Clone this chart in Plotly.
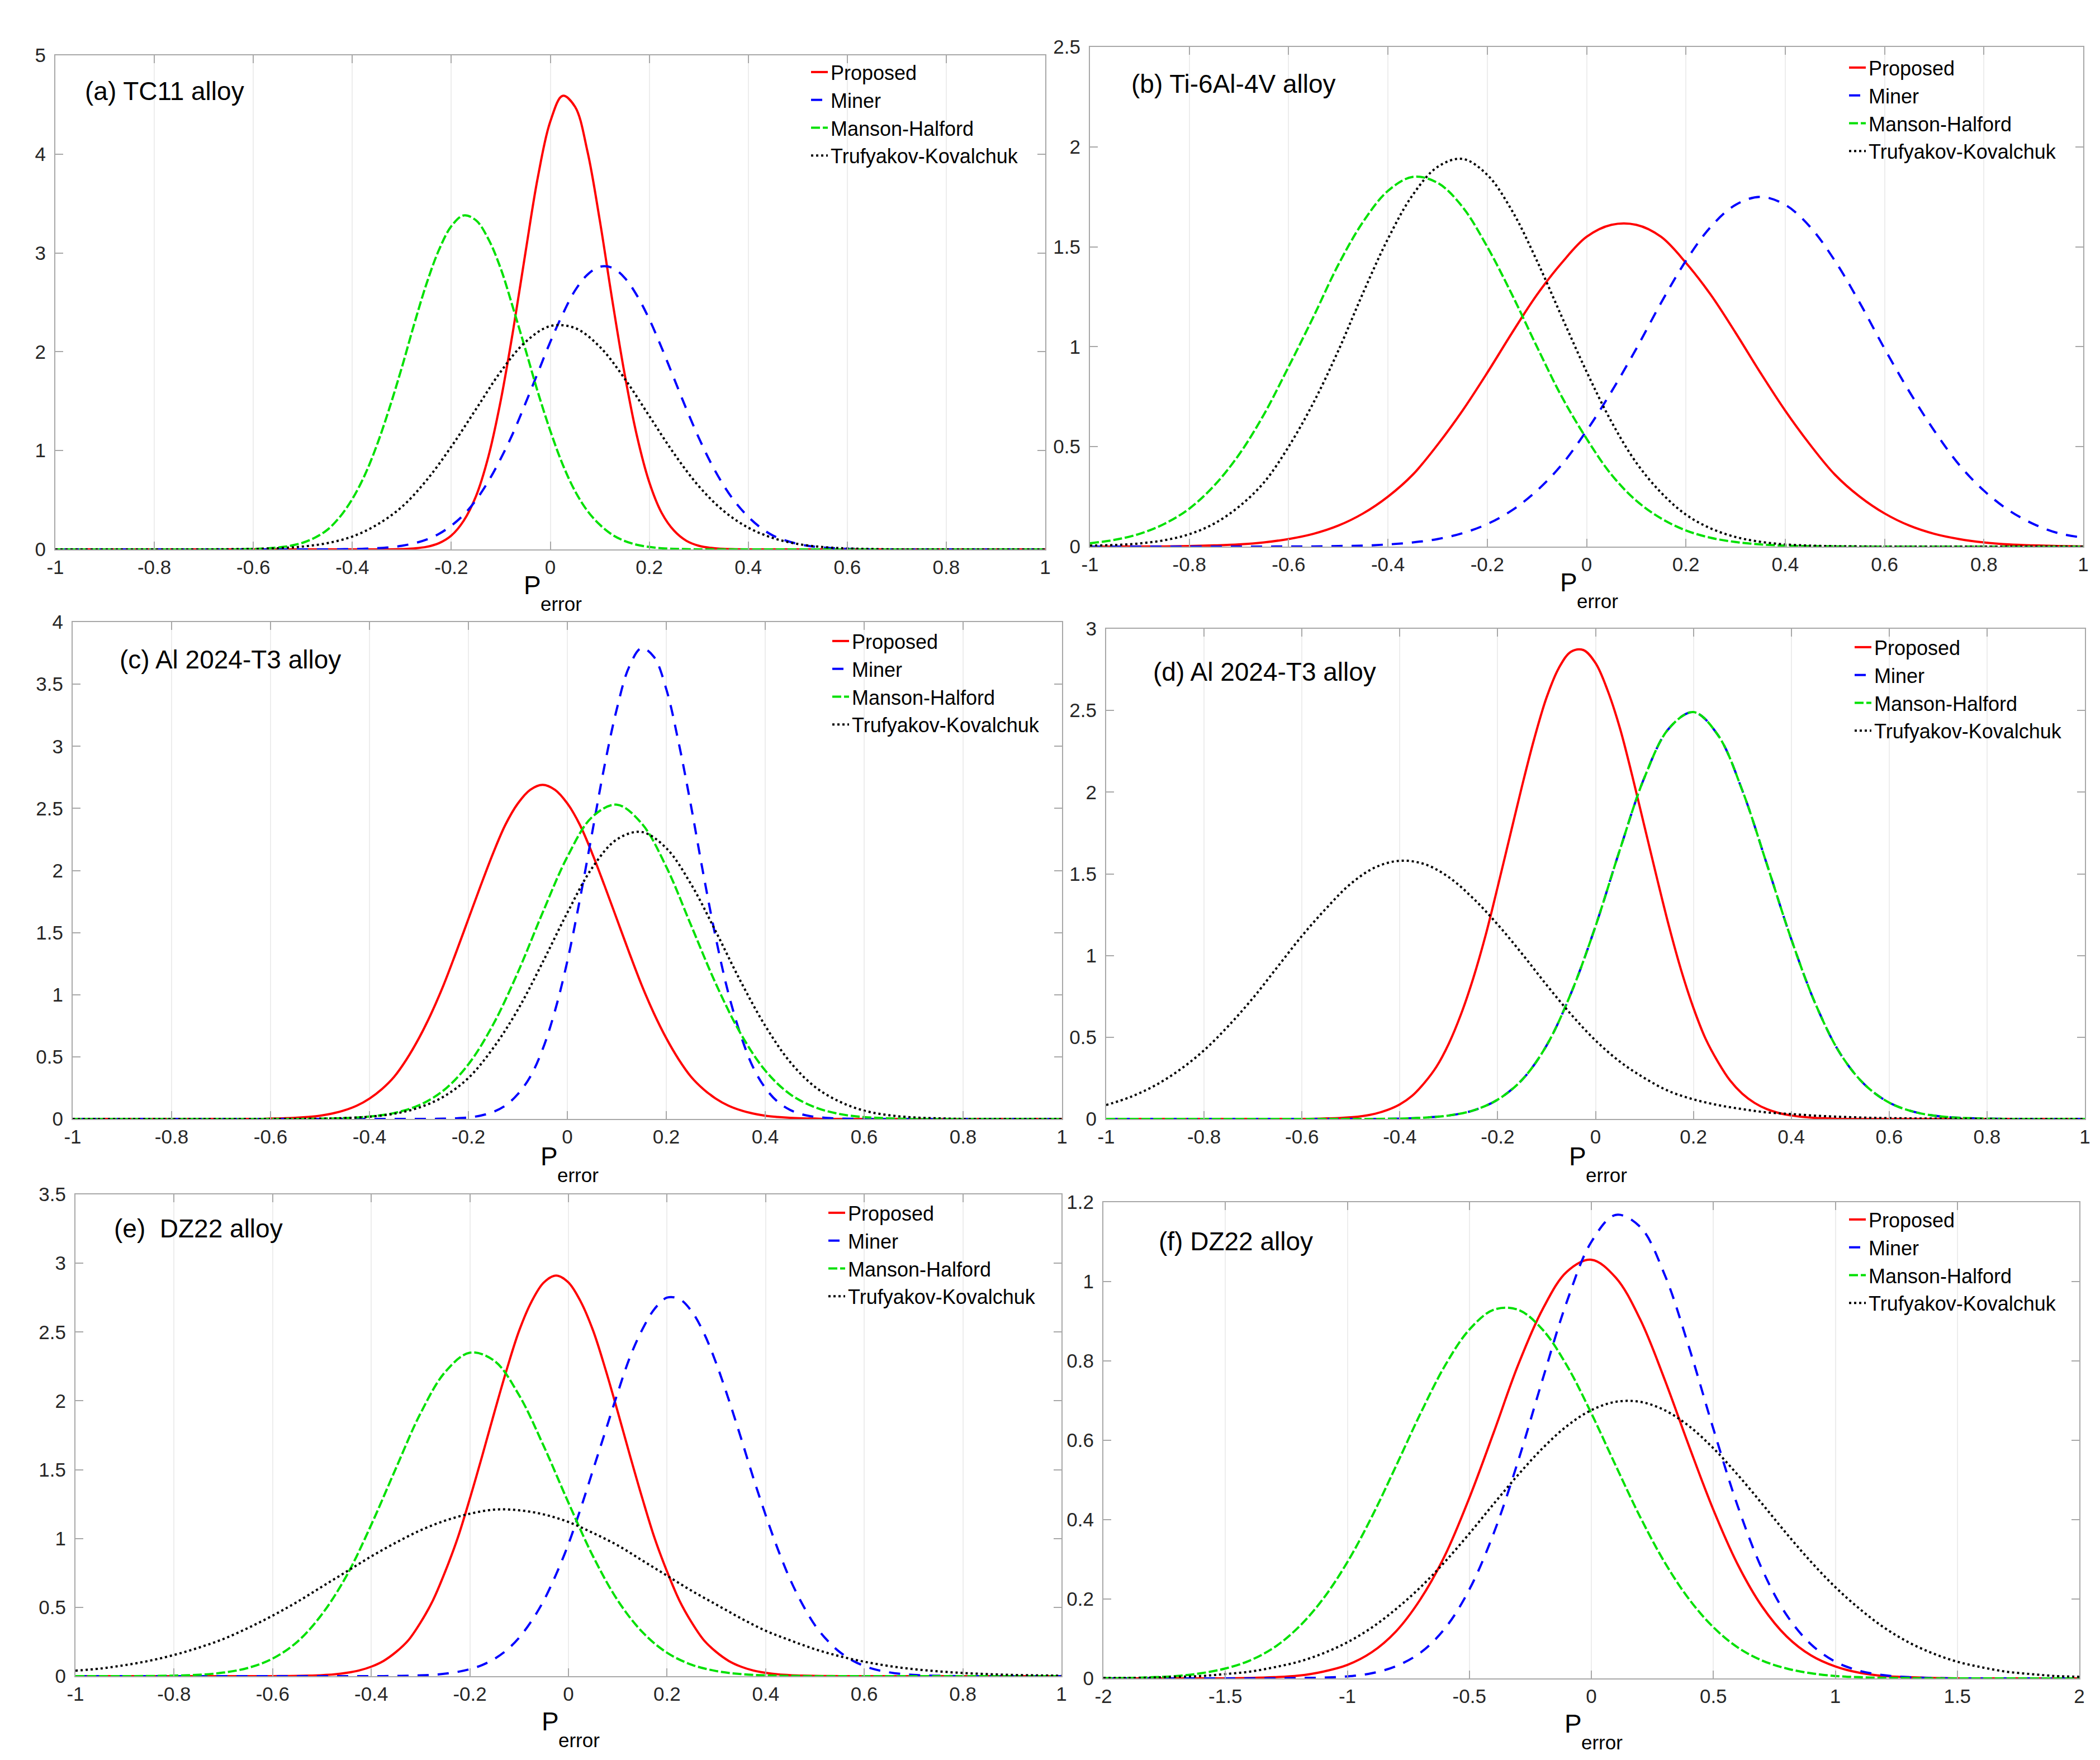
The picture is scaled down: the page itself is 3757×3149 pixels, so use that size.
import plotly.graph_objects as go

W, H = 3757, 3149

# sample positions along P_error
x_dense = [-1, -0.975, -0.95, -0.925, -0.9, -0.875, -0.85, -0.825, -0.8, -0.775,
           -0.75, -0.725, -0.7, -0.675, -0.65, -0.625, -0.6, -0.575, -0.55, -0.525,
           -0.5, -0.475, -0.45, -0.425, -0.4, -0.375, -0.35, -0.325, -0.3, -0.275,
           -0.25, -0.225, -0.2, -0.175, -0.15, -0.125, -0.1, -0.075, -0.05, -0.025,
           0, 0.025, 0.05, 0.075, 0.1, 0.125, 0.15, 0.175, 0.2, 0.225,
           0.25, 0.275, 0.3, 0.325, 0.35, 0.375, 0.4, 0.425, 0.45, 0.475,
           0.5, 0.525, 0.55, 0.575, 0.6, 0.625, 0.65, 0.675, 0.7, 0.725,
           0.75, 0.775, 0.8, 0.825, 0.85, 0.875, 0.9, 0.925, 0.95, 0.975,
           1]
x_fine = [-1, -0.95, -0.9, -0.85, -0.8, -0.75, -0.7, -0.65, -0.6, -0.55, -0.5,
          -0.45, -0.4, -0.35, -0.3, -0.25, -0.2, -0.15, -0.1, -0.05, 0,
          0.05, 0.1, 0.15, 0.2, 0.25, 0.3, 0.35, 0.4, 0.45, 0.5,
          0.55, 0.6, 0.65, 0.7, 0.75, 0.8, 0.85, 0.9, 0.95, 1]
x_wide = [-2, -1.9, -1.8, -1.7, -1.6, -1.5, -1.4, -1.3, -1.2, -1.1, -1,
          -0.9, -0.8, -0.7, -0.6, -0.5, -0.4, -0.3, -0.2, -0.1, 0,
          0.1, 0.2, 0.3, 0.4, 0.5, 0.6, 0.7, 0.8, 0.9, 1,
          1.1, 1.2, 1.3, 1.4, 1.5, 1.6, 1.7, 1.8, 1.9, 2]

# (a) TC11 alloy
a_proposed = [0, 0, 0, 0, 0, 0, 0, 0, 0, 0,
              0, 0, 0, 0, 0, 0, 0, 0, 0, 0,
              0, 0, 0, 0, 0, 0, 0, 0, 0.003, 0.010,
              0.026, 0.063, 0.14, 0.29, 0.54, 0.94, 1.51, 2.22, 3.01, 3.77,
              4.33, 4.59, 4.48, 4.03, 3.33, 2.53, 1.78, 1.15, 0.68, 0.37,
              0.19, 0.087, 0.037, 0.015, 0.005, 0.002, 0, 0, 0, 0,
              0, 0, 0, 0, 0, 0, 0, 0, 0, 0,
              0, 0, 0, 0, 0, 0, 0, 0, 0, 0,
              0]
a_miner = [0, 0, 0, 0, 0, 0, 0, 0, 0, 0,
           0, 0, 0, 0, 0, 0, 0, 0, 0, 0,
           0, 0, 0, 0.002, 0.003, 0.007, 0.012, 0.021, 0.037, 0.062,
           0.10, 0.157, 0.24, 0.35, 0.50, 0.69, 0.92, 1.18, 1.48, 1.79,
           2.10, 2.38, 2.62, 2.78, 2.86, 2.85, 2.75, 2.57, 2.33, 2.04,
           1.73, 1.42, 1.13, 0.87, 0.65, 0.47, 0.33, 0.22, 0.14, 0.091,
           0.056, 0.033, 0.019, 0.011, 0.006, 0.003, 0, 0, 0, 0,
           0, 0, 0, 0, 0, 0, 0, 0, 0, 0,
           0]
a_mh = [0, 0, 0, 0, 0, 0, 0, 0, 0, 0,
        0, 0, 0, 0, 0, 0.002, 0.004, 0.009, 0.019, 0.037,
        0.068, 0.12, 0.20, 0.33, 0.51, 0.75, 1.06, 1.43, 1.84, 2.28,
        2.69, 3.03, 3.27, 3.38, 3.33, 3.14, 2.84, 2.44, 2.02, 1.59,
        1.20, 0.86, 0.59, 0.39, 0.25, 0.149, 0.086, 0.047, 0.025, 0.012,
        0.006, 0.003, 0, 0, 0, 0, 0, 0, 0, 0,
        0, 0, 0, 0, 0, 0, 0, 0, 0, 0,
        0, 0, 0, 0, 0, 0, 0, 0, 0, 0,
        0]
a_tk = [0, 0, 0, 0, 0, 0, 0,
        0.002, 0.005, 0.012, 0.029, 0.064, 0.13, 0.25, 0.43, 0.70, 1.04, 1.42, 1.80,
        2.10, 2.26, 2.24, 2.05, 1.73, 1.35, 0.97, 0.64, 0.39, 0.22, 0.115, 0.055,
        0.024, 0.010, 0.004,
        0, 0, 0, 0, 0, 0, 0]

# (b) Ti-6Al-4V alloy
b_proposed = [0, 0, 0.001, 0.001, 0.003, 0.006, 0.011, 0.021, 0.038, 0.064, 0.105,
              0.166, 0.25, 0.36, 0.51, 0.68, 0.87, 1.07, 1.26, 1.42, 1.55,
              1.61, 1.61, 1.55, 1.42, 1.26, 1.07, 0.87, 0.68, 0.51, 0.36,
              0.25, 0.166, 0.105, 0.064, 0.038, 0.021, 0.011, 0.006, 0.003, 0.001]
b_miner = [0, 0, 0, 0, 0, 0, 0, 0, 0.001, 0.001, 0.003,
           0.005, 0.011, 0.021, 0.038, 0.067, 0.113, 0.182, 0.28, 0.41, 0.58,
           0.775, 0.99, 1.22, 1.43, 1.60, 1.71, 1.75, 1.71, 1.60, 1.43,
           1.22, 0.99, 0.775, 0.58, 0.41, 0.28, 0.182, 0.113, 0.067, 0.045]
b_mh = [0.017, 0.034, 0.064, 0.114, 0.19, 0.305, 0.46, 0.66, 0.90, 1.15, 1.41,
        1.625, 1.78, 1.85, 1.82, 1.70, 1.50, 1.26, 1.00, 0.75, 0.54,
        0.36, 0.23, 0.141, 0.081, 0.044, 0.023, 0.011, 0.005, 0.002, 0.001,
        0, 0, 0, 0, 0, 0, 0, 0, 0, 0]
b_tk = [0.005, 0.008, 0.016, 0.032, 0.062, 0.115, 0.20, 0.32, 0.50, 0.72, 0.98,
        1.27, 1.54, 1.76, 1.90, 1.94, 1.86, 1.68, 1.43, 1.15, 0.875,
        0.625, 0.42, 0.27, 0.16, 0.091, 0.048, 0.024, 0.011, 0.005, 0.002,
        0.001, 0, 0, 0, 0, 0, 0, 0, 0, 0]

# (c) Al 2024-T3 alloy
c_proposed = [0, 0, 0, 0, 0, 0, 0, 0, 0, 0,
              0, 0, 0, 0, 0, 0, 0.003, 0.005, 0.009, 0.016,
              0.026, 0.044, 0.070, 0.108, 0.164, 0.24, 0.34, 0.48, 0.65, 0.85,
              1.08, 1.34, 1.61, 1.88, 2.14, 2.37, 2.54, 2.65, 2.69, 2.65,
              2.54, 2.37, 2.14, 1.88, 1.61, 1.34, 1.08, 0.85, 0.65, 0.48,
              0.34, 0.24, 0.164, 0.108, 0.070, 0.044, 0.026, 0.016, 0.009, 0.005,
              0.003, 0, 0, 0, 0, 0, 0, 0, 0, 0,
              0, 0, 0, 0, 0, 0, 0, 0, 0, 0,
              0]
c_miner = [0, 0, 0, 0, 0, 0, 0, 0, 0, 0,
           0, 0, 0, 0, 0, 0, 0, 0, 0, 0,
           0, 0, 0, 0, 0, 0, 0, 0, 0, 0,
           0.002, 0.005, 0.012, 0.027, 0.056, 0.108, 0.20, 0.34, 0.56, 0.87,
           1.27, 1.76, 2.30, 2.84, 3.30, 3.64, 3.79, 3.72, 3.46, 3.03,
           2.52, 1.97, 1.46, 1.02, 0.68, 0.42, 0.25, 0.139, 0.073, 0.036,
           0.017, 0.008, 0.003, 0.001, 0, 0, 0, 0, 0, 0,
           0, 0, 0, 0, 0, 0, 0, 0, 0, 0,
           0]
c_mh = [0, 0, 0, 0, 0, 0, 0, 0, 0, 0,
        0.002, 0.007, 0.019, 0.048, 0.11, 0.23, 0.44, 0.76, 1.18, 1.66, 2.11, 2.43,
        2.53, 2.38, 2.03, 1.56, 1.09, 0.69, 0.39, 0.20, 0.095, 0.040, 0.015, 0.005,
        0, 0, 0, 0, 0, 0, 0]
c_tk = [0, 0, 0, 0, 0, 0, 0, 0, 0, 0,
        0.002, 0.007, 0.018, 0.042, 0.091, 0.18, 0.33, 0.57, 0.88, 1.26, 1.66, 2.02,
        2.25, 2.31, 2.18, 1.89, 1.51, 1.11, 0.75, 0.46, 0.26, 0.14, 0.067, 0.030,
        0.012, 0.005,
        0, 0, 0, 0, 0]

# (d) Al 2024-T3 alloy (Miner lies under Manson-Halford)
d_proposed = [0, 0, 0, 0, 0, 0, 0, 0, 0, 0,
              0, 0, 0, 0, 0, 0, 0, 0.001, 0.003, 0.005,
              0.010, 0.018, 0.032, 0.055, 0.089, 0.141, 0.22, 0.32, 0.46, 0.64,
              0.86, 1.12, 1.42, 1.73, 2.04, 2.33, 2.58, 2.76, 2.86, 2.87,
              2.79, 2.62, 2.39, 2.10, 1.79, 1.48, 1.18, 0.91, 0.68, 0.49,
              0.35, 0.235, 0.154, 0.098, 0.060, 0.036, 0.021, 0.012, 0.006, 0.003,
              0, 0, 0, 0, 0, 0, 0, 0, 0, 0,
              0, 0, 0, 0, 0, 0, 0, 0, 0, 0,
              0]
d_miner = [0, 0, 0, 0, 0, 0, 0, 0, 0, 0, 0, 0,
           0.002, 0.008, 0.021, 0.052, 0.118, 0.24, 0.45, 0.77, 1.18, 1.65, 2.09, 2.39,
           2.49, 2.35, 2.01, 1.56, 1.10, 0.70, 0.40, 0.21, 0.10, 0.044, 0.017, 0.006,
           0.002, 0, 0, 0, 0]
d_mh = [0, 0, 0, 0, 0, 0, 0, 0, 0, 0, 0, 0,
        0.002, 0.008, 0.021, 0.052, 0.118, 0.24, 0.45, 0.77, 1.18, 1.65, 2.09, 2.39,
        2.49, 2.35, 2.01, 1.56, 1.10, 0.70, 0.40, 0.21, 0.10, 0.044, 0.017, 0.006,
        0.002, 0, 0, 0, 0]
d_tk = [0.085, 0.135, 0.205, 0.30, 0.42, 0.57, 0.74, 0.93, 1.12, 1.29, 1.44,
        1.54, 1.58, 1.56, 1.48, 1.35, 1.19, 1.01, 0.82, 0.64, 0.48,
        0.35, 0.25, 0.17, 0.12, 0.085, 0.06, 0.04, 0.03, 0.02, 0.013,
        0.008, 0.005, 0.003, 0.002, 0.001, 0, 0, 0, 0, 0]

# (e) DZ22 alloy
e_proposed = [0, 0, 0, 0, 0, 0, 0, 0, 0, 0,
              0, 0, 0, 0, 0, 0, 0, 0.001, 0.002, 0.004,
              0.007, 0.013, 0.024, 0.041, 0.069, 0.111, 0.175, 0.26, 0.39, 0.55,
              0.76, 1.00, 1.29, 1.60, 1.92, 2.23, 2.51, 2.72, 2.86, 2.91,
              2.86, 2.72, 2.51, 2.23, 1.92, 1.60, 1.29, 1.00, 0.76, 0.55,
              0.39, 0.26, 0.175, 0.111, 0.069, 0.041, 0.024, 0.013, 0.007, 0.004,
              0.002, 0.001, 0, 0, 0, 0, 0, 0, 0, 0,
              0, 0, 0, 0, 0, 0, 0, 0, 0, 0,
              0]
e_miner = [0, 0, 0, 0, 0, 0, 0, 0, 0, 0,
           0, 0, 0, 0, 0, 0, 0, 0, 0, 0,
           0, 0, 0, 0, 0, 0, 0.002, 0.003, 0.006, 0.010,
           0.018, 0.031, 0.051, 0.081, 0.126, 0.19, 0.28, 0.40, 0.55, 0.74,
           0.96, 1.22, 1.50, 1.78, 2.06, 2.32, 2.52, 2.67, 2.75, 2.74,
           2.65, 2.49, 2.27, 2.01, 1.73, 1.44, 1.17, 0.92, 0.70, 0.52,
           0.37, 0.26, 0.176, 0.116, 0.074, 0.046, 0.028, 0.016, 0.009, 0.005,
           0.003, 0.001, 0, 0, 0, 0, 0, 0, 0, 0,
           0]
e_mh = [0, 0, 0,
        0.001, 0.004, 0.010, 0.026, 0.060, 0.128, 0.25, 0.45, 0.73, 1.10, 1.51, 1.91,
        2.21, 2.35, 2.29, 2.04, 1.67, 1.26, 0.87, 0.55, 0.32, 0.17, 0.083, 0.037,
        0.015, 0.006, 0.002,
        0, 0, 0, 0, 0, 0, 0, 0, 0, 0, 0]
e_tk = [0.04, 0.055, 0.080, 0.112, 0.154, 0.207, 0.27, 0.35, 0.44, 0.54, 0.65,
        0.76, 0.87, 0.97, 1.06, 1.13, 1.18, 1.21, 1.205, 1.175, 1.12,
        1.04, 0.95, 0.84, 0.73, 0.62, 0.52, 0.42, 0.33, 0.26, 0.196,
        0.145, 0.105, 0.074, 0.051, 0.035, 0.023, 0.015, 0.009, 0.006, 0.003]

# (f) DZ22 alloy
f_proposed = [0, 0, 0, 0, 0, 0,
              0.001, 0.003, 0.007, 0.017, 0.034, 0.066, 0.119, 0.20, 0.31, 0.455, 0.62,
              0.79, 0.93, 1.025, 1.055, 1.01, 0.905, 0.754, 0.586, 0.425, 0.287, 0.181,
              0.106, 0.058, 0.030, 0.014, 0.006, 0.003, 0.001,
              0, 0, 0, 0, 0, 0]
f_miner = [0, 0, 0, 0, 0, 0, 0, 0,
           0.001, 0.002, 0.005, 0.013, 0.031, 0.065, 0.126, 0.224, 0.366, 0.548, 0.753,
           0.95, 1.10, 1.168, 1.138, 1.018, 0.835, 0.629, 0.434, 0.275, 0.160, 0.086,
           0.042, 0.019, 0.008, 0.003, 0.001,
           0, 0, 0, 0, 0, 0]
f_mh = [0.001, 0.001, 0.003, 0.006, 0.013, 0.025, 0.045, 0.078, 0.129, 0.20, 0.293,
        0.407, 0.536, 0.668, 0.788, 0.879, 0.929, 0.929, 0.879, 0.788, 0.668,
        0.536, 0.407, 0.293, 0.20, 0.129, 0.078, 0.045, 0.025, 0.013, 0.006,
        0.003, 0.001, 0.001, 0, 0, 0, 0, 0, 0, 0]
f_tk = [0.001, 0.001, 0.002, 0.004, 0.006, 0.011, 0.017, 0.028, 0.042, 0.063, 0.091,
        0.128, 0.175, 0.23, 0.294, 0.365, 0.44, 0.513, 0.58, 0.636, 0.676,
        0.697, 0.697, 0.676, 0.636, 0.58, 0.513, 0.44, 0.365, 0.294, 0.23,
        0.175, 0.128, 0.091, 0.063, 0.042, 0.028, 0.017, 0.011, 0.006, 0.004]

series_names = ["Proposed", "Miner", "Manson-Halford", "Trufyakov-Kovalchuk"]
panel_titles = ["(a) TC11 alloy", "(b) Ti-6Al-4V alloy", "(c) Al 2024-T3 alloy",
                "(d) Al 2024-T3 alloy", "(e)\u00a0\u00a0DZ22 alloy", "(f) DZ22 alloy"]

xt_unit = [-1, -0.8, -0.6, -0.4, -0.2, 0, 0.2, 0.4, 0.6, 0.8, 1]
xt_unit_text = ["-1", "-0.8", "-0.6", "-0.4", "-0.2", "0", "0.2", "0.4", "0.6", "0.8", "1"]
xt_two = [-2, -1.5, -1, -0.5, 0, 0.5, 1, 1.5, 2]
xt_two_text = ["-2", "-1.5", "-1", "-0.5", "0", "0.5", "1", "1.5", "2"]

yt_a = [0, 1, 2, 3, 4, 5]
yt_a_text = ["0", "1", "2", "3", "4", "5"]
yt_b = [0, 0.5, 1, 1.5, 2, 2.5]
yt_b_text = ["0", "0.5", "1", "1.5", "2", "2.5"]
yt_c = [0, 0.5, 1, 1.5, 2, 2.5, 3, 3.5, 4]
yt_c_text = ["0", "0.5", "1", "1.5", "2", "2.5", "3", "3.5", "4"]
yt_d = [0, 0.5, 1, 1.5, 2, 2.5, 3]
yt_d_text = ["0", "0.5", "1", "1.5", "2", "2.5", "3"]
yt_e = [0, 0.5, 1, 1.5, 2, 2.5, 3, 3.5]
yt_e_text = ["0", "0.5", "1", "1.5", "2", "2.5", "3", "3.5"]
yt_f = [0, 0.2, 0.4, 0.6, 0.8, 1, 1.2]
yt_f_text = ["0", "0.2", "0.4", "0.6", "0.8", "1", "1.2"]

FONT = "Liberation Sans, Arial, sans-serif"
FRAME = "#a8a8a8"
GRID = "#ededed"

line_styles = [
    dict(color="#ff0000", width=4, dash="solid"),
    dict(color="#0000ff", width=4, dash="20px,16px"),
    dict(color="#00e000", width=4, dash="16px,5px"),
    dict(color="#000000", width=4, dash="4px,5px"),
]

# panel layout in page pixels: plot box (l, r, t, b), label centre, legend line start,
# offset of the x-label below the axis
panels = [
    dict(traces=[(x_dense, a_proposed), (x_dense, a_miner), (x_dense, a_mh), (x_fine, a_tk)],
         xr=[-1, 1], yr=[0, 5], xt=(xt_unit, xt_unit_text), yt=(yt_a, yt_a_text),
         box=(91, 1862, 91, 975), lab=(142, 167), leg=(1450, 131), xl=76),
    dict(traces=[(x_fine, b_proposed), (x_fine, b_miner), (x_fine, b_mh), (x_fine, b_tk)],
         xr=[-1, 1], yr=[0, 2.5], xt=(xt_unit, xt_unit_text), yt=(yt_b, yt_b_text),
         box=(1942, 3719, 76, 970), lab=(2014, 154), leg=(3307, 123), xl=76),
    dict(traces=[(x_dense, c_proposed), (x_dense, c_miner), (x_fine, c_mh), (x_fine, c_tk)],
         xr=[-1, 1], yr=[0, 4], xt=(xt_unit, xt_unit_text), yt=(yt_c, yt_c_text),
         box=(122, 1892, 1105, 1994), lab=(204, 1184), leg=(1488, 1149), xl=79),
    dict(traces=[(x_dense, d_proposed), (x_fine, d_miner), (x_fine, d_mh), (x_fine, d_tk)],
         xr=[-1, 1], yr=[0, 3], xt=(xt_unit, xt_unit_text), yt=(yt_d, yt_d_text),
         box=(1971, 3722, 1117, 1994), lab=(2053, 1206), leg=(3317, 1160), xl=79),
    dict(traces=[(x_dense, e_proposed), (x_dense, e_miner), (x_fine, e_mh), (x_fine, e_tk)],
         xr=[-1, 1], yr=[0, 3.5], xt=(xt_unit, xt_unit_text), yt=(yt_e, yt_e_text),
         box=(127, 1891, 2129, 2991), lab=(194, 2202), leg=(1481, 2172), xl=93),
    dict(traces=[(x_wide, f_proposed), (x_wide, f_miner), (x_wide, f_mh), (x_wide, f_tk)],
         xr=[-2, 2], yr=[0, 1.2], xt=(xt_two, xt_two_text), yt=(yt_f, yt_f_text),
         box=(1966, 3712, 2143, 2995), lab=(2063, 2225), leg=(3307, 2184), xl=93),
]

fig = go.Figure()
layout = {}
annotations = []

for i, p in enumerate(panels):
    sfx = "" if i == 0 else str(i + 1)
    for name, (xs, ys), st in zip(series_names, p["traces"], line_styles):
        fig.add_trace(go.Scatter(
            x=xs, y=ys, mode="lines", name=name,
            line=dict(color=st["color"], width=st["width"], dash=st["dash"],
                      shape="spline", smoothing=1),
            xaxis="x" + sfx, yaxis="y" + sfx, legend="legend" + sfx,
            hoverinfo="skip",
        ))

    left, right, top, bottom = p["box"]
    axis_common = dict(
        showline=True, linecolor=FRAME, linewidth=2, mirror="ticks",
        ticks="inside", ticklen=14, tickwidth=2, tickcolor=FRAME,
        zeroline=False, automargin=False,
        tickfont=dict(family=FONT, size=35, color="#262626"),
    )
    layout["xaxis" + sfx] = dict(
        domain=[left / W, right / W], range=p["xr"], anchor="y" + sfx,
        tickmode="array", tickvals=p["xt"][0], ticktext=p["xt"][1],
        showgrid=True, gridcolor=GRID, gridwidth=2, **axis_common)
    layout["yaxis" + sfx] = dict(
        domain=[1 - bottom / H, 1 - top / H], range=p["yr"], anchor="x" + sfx,
        tickmode="array", tickvals=p["yt"][0], ticktext=p["yt"][1],
        ticklabelstandoff=8, showgrid=False, **axis_common)

    lx, ly = p["leg"]
    layout["legend" + sfx] = dict(
        x=(lx - 12) / W, y=1 - (ly - 40) / H, xanchor="left", yanchor="top",
        bgcolor="rgba(0,0,0,0)", borderwidth=0, itemwidth=30, tracegroupgap=0,
        font=dict(family=FONT, size=36, color="#000000"),
    )

    annotations.append(dict(
        text=panel_titles[i], x=p["lab"][0] / W, y=1 - (p["lab"][1] - 12) / H,
        xref="paper", yref="paper", xanchor="left", yanchor="middle",
        showarrow=False, font=dict(family=FONT, size=46, color="#000000")))

    # x-axis label: P with subscript "error"
    cx = (left + right) / 2
    annotations.append(dict(
        text="P", x=(cx - 50) / W, y=1 - (bottom + p["xl"] - 12) / H,
        xref="paper", yref="paper", xanchor="left", yanchor="middle",
        showarrow=False, font=dict(family=FONT, size=46, color="#000000")))
    annotations.append(dict(
        text="error", x=(cx - 20) / W, y=1 - (bottom + p["xl"] + 21) / H,
        xref="paper", yref="paper", xanchor="left", yanchor="middle",
        showarrow=False, font=dict(family=FONT, size=35, color="#000000")))

fig.update_layout(
    width=W, height=H,
    margin=dict(l=0, r=0, t=0, b=0),
    paper_bgcolor="white", plot_bgcolor="white",
    annotations=annotations,
    **layout,
)

fig.write_html("out.html")
